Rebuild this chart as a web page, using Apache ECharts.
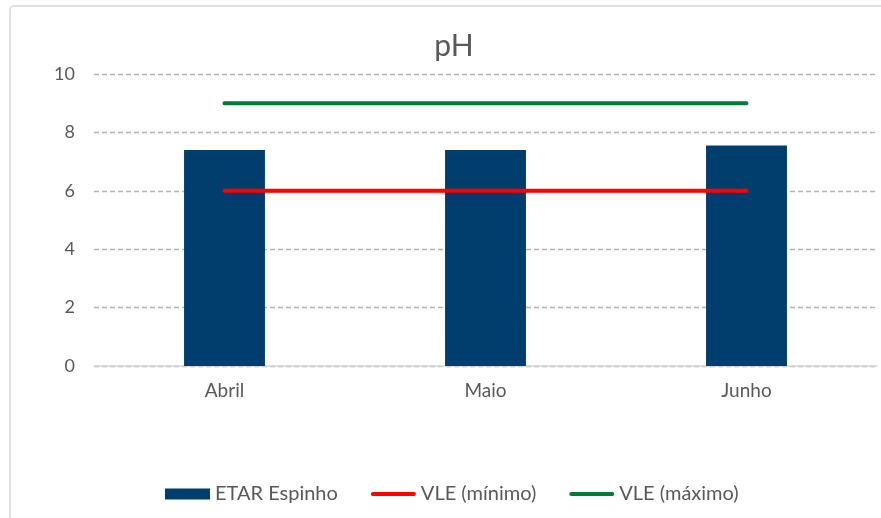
<!DOCTYPE html>
<html>
<head>
<meta charset="utf-8">
<script src="https://cdn.jsdelivr.net/npm/echarts@6/dist/echarts.min.js"></script>
<style>
html,body{margin:0;padding:0;background:#fff;}
#chart{width:881px;height:518px;}
</style>
</head>
<body>
<div id="chart"></div>
<script>
const categories = ['Abril', 'Maio', 'Junho'];
const etarEspinho = [7.4, 7.4, 7.55];
const vleMinimo = [6, 6, 6];
const vleMaximo = [9, 9, 9];
const yTicks = [0, 2, 4, 6, 8, 10];

const FONT = 'Lato, "Open Sans", sans-serif';
const LINE_ICON = 'path://M2,0 L43,0 A2,2 0 0 1 43,4 L2,4 A2,2 0 0 1 2,0 Z';
const chart = echarts.init(document.getElementById('chart'));
chart.setOption({
  animation: false,
  backgroundColor: '#ffffff',
  graphic: [{
    type: 'rect',
    shape: { x: 10, y: 6, width: 900, height: 600, r: 4 },
    style: { fill: 'none', stroke: '#d9d9d9', lineWidth: 1.5 },
    silent: true, z: -1
  }],
  title: {
    text: 'pH',
    left: 449, top: 26,
    textAlign: 'center',
    textStyle: { fontFamily: FONT, fontSize: 30, fontWeight: 'normal', color: '#595959' }
  },
  legend: {
    left: 165, top: 484, padding: 0,
    itemWidth: 45, itemHeight: 11, itemGap: 33,
    textStyle: { fontFamily: FONT, fontSize: 20, color: '#595959' },
    data: [
      { name: 'ETAR Espinho', icon: 'rect' },
      { name: 'VLE (mínimo)', icon: LINE_ICON, itemStyle: { color: '#ff0000' } },
      { name: 'VLE (máximo)', icon: LINE_ICON, itemStyle: { color: '#037a35' } }
    ]
  },
  grid: { left: 94, right: 4, top: 74, bottom: 152, containLabel: false },
  xAxis: {
    type: 'category',
    data: categories,
    axisLine: { lineStyle: { color: '#d9d9d9', width: 1.5 } },
    axisTick: { show: false },
    axisLabel: { fontFamily: FONT, fontSize: 19, color: '#595959', margin: 15 }
  },
  yAxis: {
    type: 'value',
    min: yTicks[0], max: yTicks[yTicks.length - 1], interval: 2,
    axisLine: { show: false },
    axisTick: { show: false },
    axisLabel: { fontFamily: FONT, fontSize: 18, color: '#595959', margin: 19 },
    splitLine: { lineStyle: { color: '#b3b3b3', type: [5, 3], width: 1.3 } }
  },
  series: [
    {
      name: 'ETAR Espinho', type: 'bar', data: etarEspinho,
      barWidth: '31%',
      itemStyle: { color: '#023e6d' }, z: 1
    },
    {
      name: 'VLE (mínimo)', type: 'line', data: vleMinimo,
      symbol: 'none',
      lineStyle: { color: '#ff0000', width: 4, cap: 'round' },
      itemStyle: { color: '#ff0000' }, z: 3
    },
    {
      name: 'VLE (máximo)', type: 'line', data: vleMaximo,
      symbol: 'none',
      lineStyle: { color: '#037a35', width: 4, cap: 'round' },
      itemStyle: { color: '#037a35' }, z: 3
    }
  ]
});
</script>
</body>
</html>
